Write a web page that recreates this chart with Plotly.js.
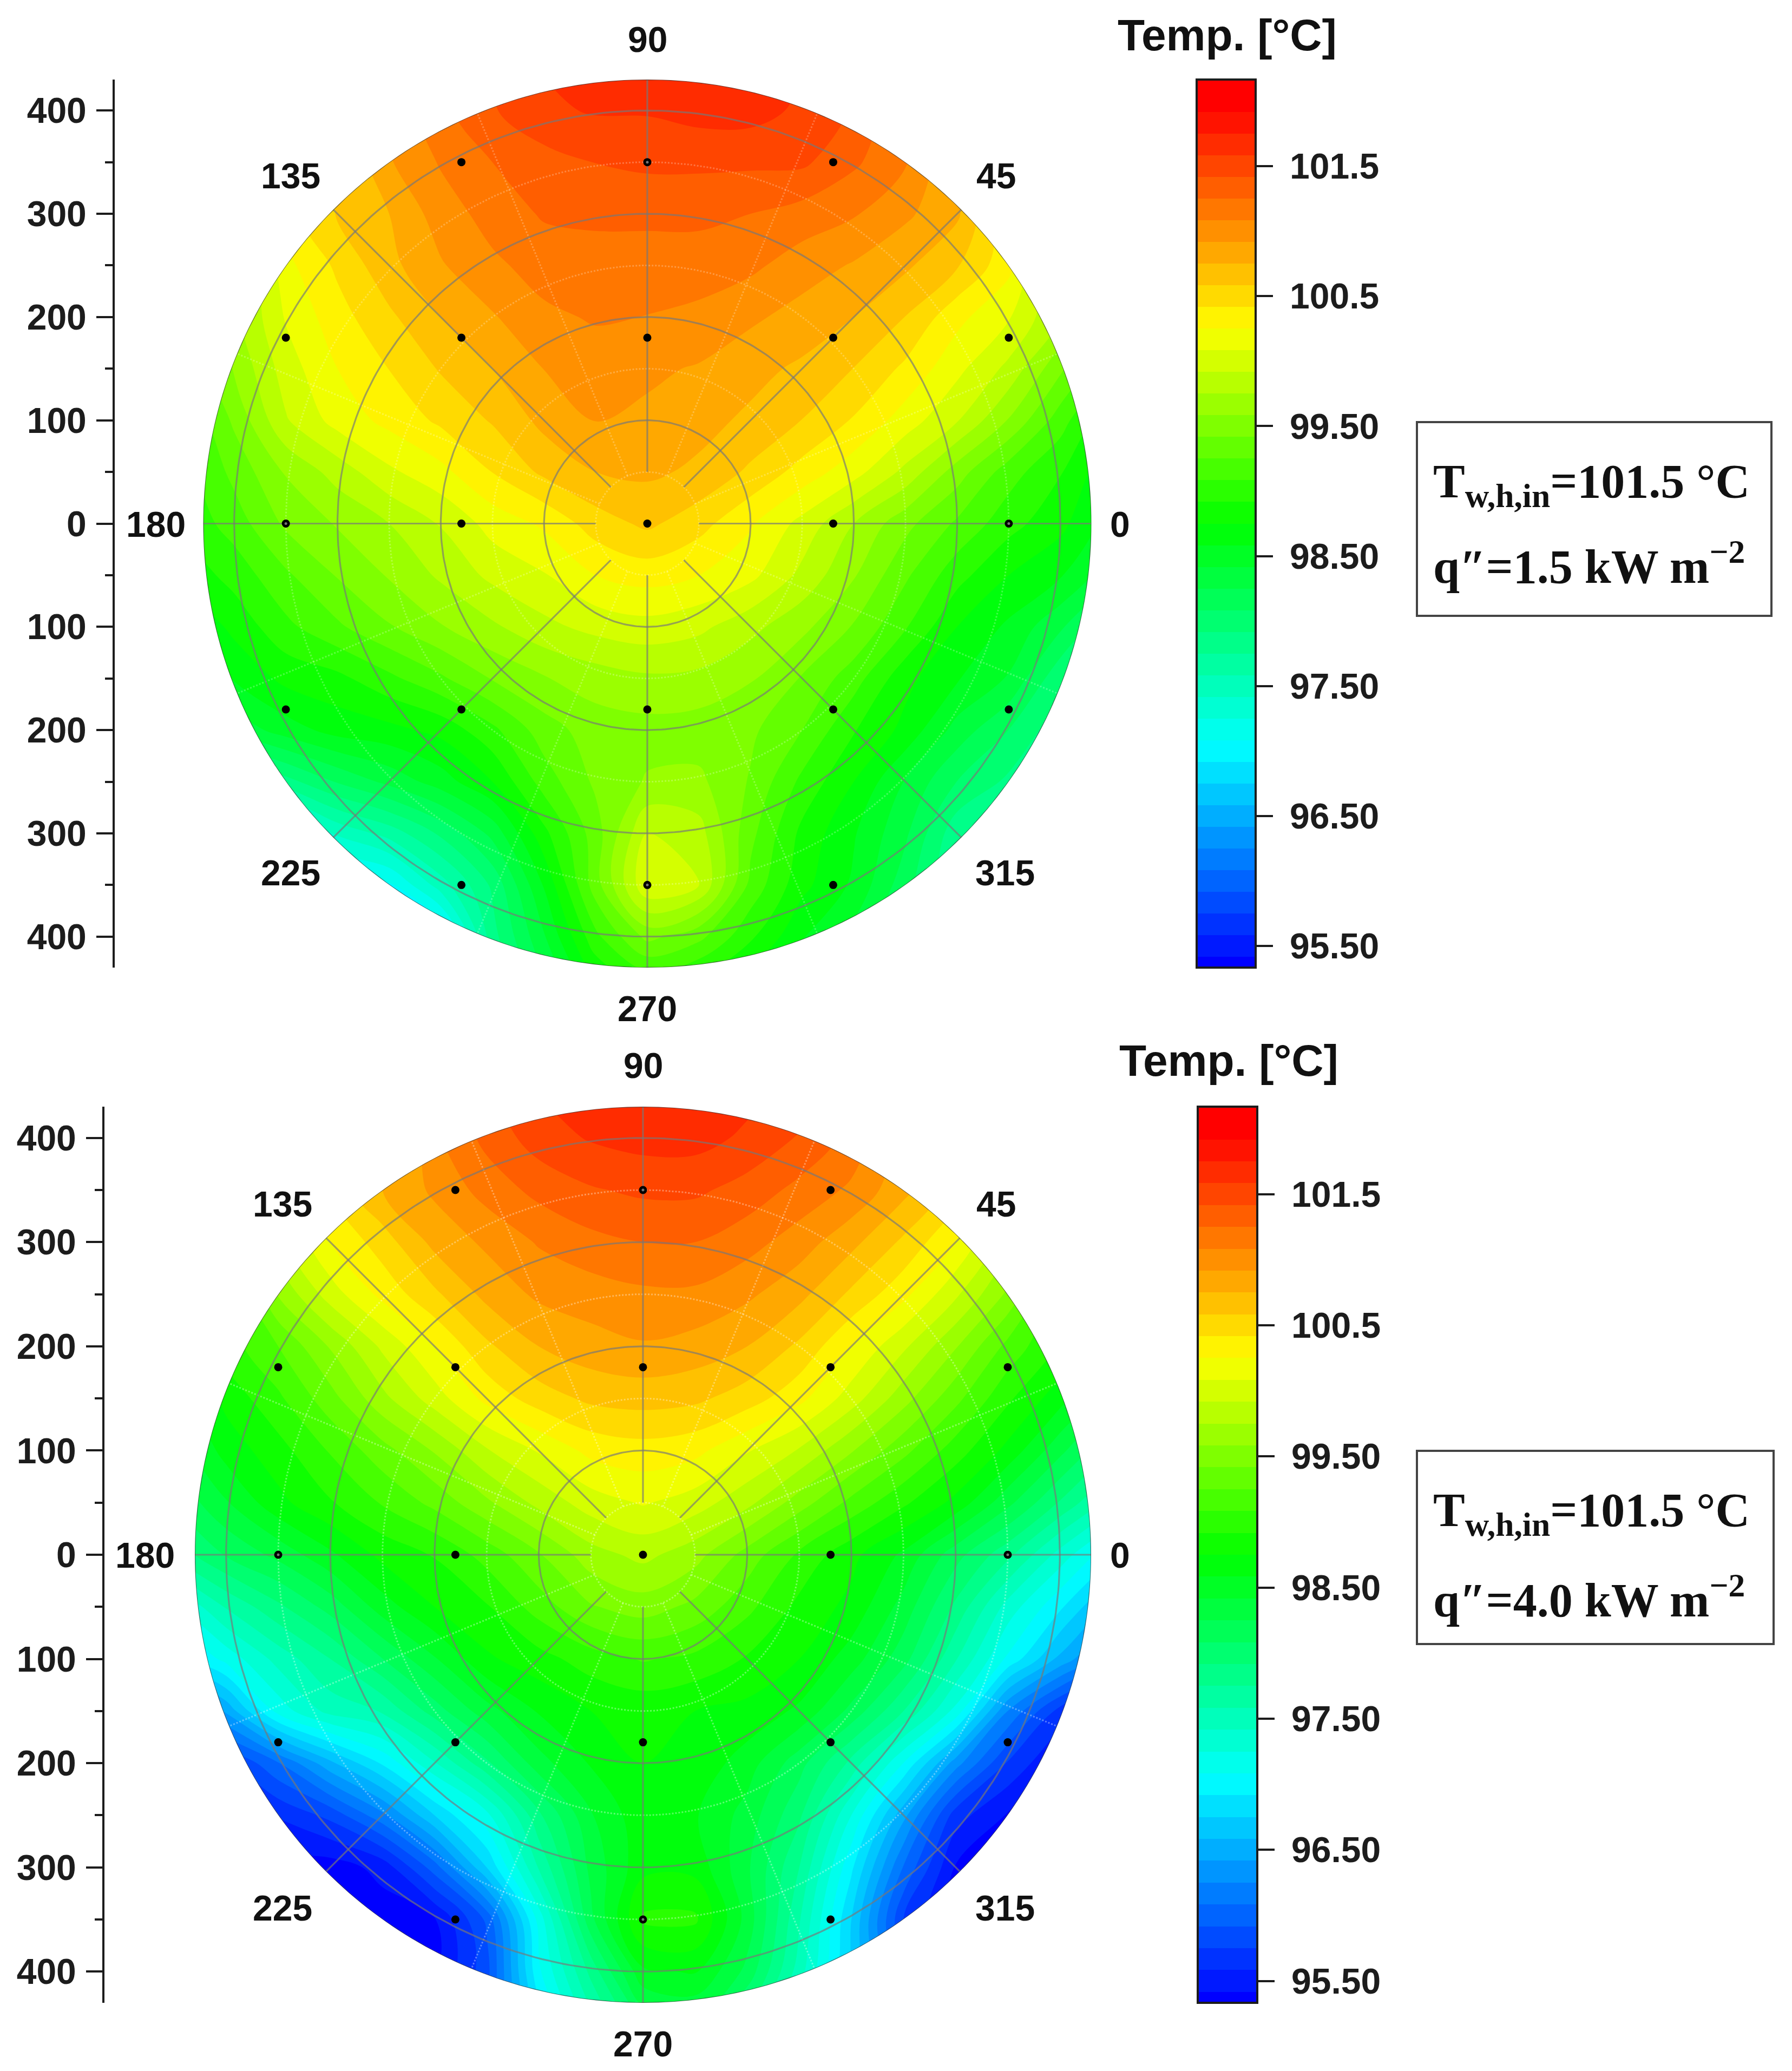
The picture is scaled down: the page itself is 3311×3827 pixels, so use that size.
<!DOCTYPE html>
<html><head><meta charset="utf-8">
<script src="https://cdn.plot.ly/plotly-3.0.1.min.js"></script>
<style>html,body{margin:0;padding:0;background:#fff}</style></head>
<body><div id="chart" style="width:3311px;height:3827px"></div>
<script>
// Temperature readings [°C], on a 50-unit position grid
const gridX = [-450,-400,-350,-300,-250,-200,-150,-100,-50,0,50,100,150,200,250,300,350,400,450];
const gridY = [450,400,350,300,250,200,150,100,50,0,-50,-100,-150,-200,-250,-300,-350,-400,-450];

const tempLow = [
[99.7,100.0,100.3,100.6,100.9,101.15,101.4,101.6,101.65,101.65,101.65,101.65,101.6,101.4,101.1,100.8,100.5,100.2,99.9],
[99.7,100.0,100.3,100.65,100.95,101.2,101.4,101.55,101.6,101.6,101.65,101.65,101.55,101.4,101.1,100.75,100.4,100.1,99.8],
[99.6,99.85,100.2,100.55,100.9,101.1,101.25,101.35,101.42,101.45,101.45,101.45,101.45,101.28,101.1,100.75,100.3,99.95,99.6],
[99.4,99.7,100.35,100.6,100.75,101.0,101.15,101.27,101.3,101.3,101.3,101.25,101.18,101.1,100.95,100.78,100.3,99.85,99.4],
[99.2,99.6,100.2,100.45,100.7,100.9,101.05,101.15,101.15,101.15,101.15,101.12,101.0,100.9,100.78,100.6,100.3,99.7,99.2],
[99.1,99.7,100.1,100.35,100.55,100.75,100.9,101.05,101.1,101.08,101.05,100.95,100.85,100.75,100.58,100.3,100.1,99.75,99.3],
[99.2,99.6,100.0,100.25,100.42,100.6,100.75,100.92,101.0,100.95,100.9,100.8,100.72,100.58,100.38,100.13,99.87,99.45,99.05],
[99.05,99.45,99.9,100.15,100.3,100.45,100.6,100.8,100.92,100.88,100.8,100.72,100.58,100.4,100.17,99.93,99.57,99.16,98.75],
[99.0,99.3,99.6,99.82,100.05,100.2,100.42,100.62,100.75,100.78,100.72,100.55,100.35,100.15,99.87,99.5,99.16,98.93,98.6],
[98.95,99.16,99.45,99.6,99.75,99.93,100.15,100.28,100.5,100.62,100.48,100.27,100.03,99.75,99.47,99.22,98.98,98.8,98.5],
[98.8,98.98,99.22,99.43,99.6,99.78,99.96,100.07,100.25,100.32,100.25,100.13,99.87,99.6,99.28,98.98,98.75,98.6,98.3],
[98.55,98.8,99.04,99.22,99.4,99.57,99.72,99.87,99.97,100.02,99.96,99.8,99.63,99.4,99.1,98.75,98.55,98.28,97.9],
[98.35,98.6,98.8,98.87,99.04,99.22,99.43,99.57,99.66,99.72,99.7,99.6,99.4,99.16,98.8,98.6,98.4,97.95,97.55],
[98.0,98.3,98.5,98.65,98.7,98.8,99.04,99.34,99.5,99.52,99.5,99.45,99.25,98.93,98.7,98.35,98.08,97.8,97.4],
[97.4,97.6,97.85,98.1,98.3,98.5,98.75,99.16,99.45,99.6,99.62,99.4,99.04,98.75,98.4,98.08,97.88,97.55,97.2],
[96.8,96.9,97.0,97.45,97.65,97.95,98.3,98.87,99.34,99.92,99.82,99.3,98.87,98.6,98.28,97.8,97.5,97.2,97.0],
[96.6,96.7,96.8,96.9,97.05,97.5,97.95,98.6,99.34,100.07,99.92,99.2,98.8,98.55,98.15,97.7,97.3,97.1,96.9],
[96.5,96.6,96.7,96.75,96.7,96.9,97.85,98.4,99.04,99.47,99.3,98.95,98.6,98.35,97.95,97.5,97.2,97.0,96.8],
[96.4,96.5,96.6,96.7,96.6,96.8,97.7,98.2,98.7,98.9,98.8,98.6,98.3,98.0,97.6,97.2,97.0,96.9,96.7]
];

const tempHigh = [
[99.0,99.4,99.85,100.3,100.75,101.1,101.4,101.6,101.65,101.7,101.7,101.65,101.55,101.25,100.9,100.45,100.0,99.55,99.1],
[98.95,99.3,99.75,100.2,100.6,101.05,101.3,101.5,101.6,101.65,101.65,101.55,101.4,101.2,100.85,100.4,99.9,99.45,99.0],
[98.8,99.2,99.75,100.45,100.75,100.95,101.15,101.3,101.4,101.45,101.45,101.35,101.2,101.05,100.8,100.5,99.8,99.3,98.8],
[98.7,99.2,99.85,100.25,100.5,100.8,100.95,101.1,101.2,101.25,101.25,101.15,101.0,100.8,100.55,100.25,99.8,99.2,98.7],
[98.5,99.0,99.6,100.0,100.3,100.55,100.8,100.95,101.0,101.05,101.05,100.95,100.8,100.55,100.3,99.95,99.55,99.0,98.5],
[98.5,99.0,99.25,99.6,99.95,100.25,100.55,100.75,100.85,100.9,100.85,100.75,100.55,100.25,99.95,99.6,99.2,98.9,98.4],
[98.45,98.8,99.05,99.35,99.7,100.0,100.3,100.5,100.62,100.65,100.62,100.5,100.3,100.0,99.65,99.3,98.95,98.65,98.25],
[98.3,98.65,98.85,99.1,99.35,99.6,99.9,100.1,100.3,100.35,100.3,100.1,99.9,99.6,99.3,99.0,98.7,98.3,97.9],
[98.1,98.4,98.7,98.9,99.1,99.3,99.55,99.8,100.0,100.1,100.0,99.8,99.5,99.2,98.95,98.7,98.3,97.9,97.5],
[97.8,98.1,98.3,98.55,98.8,98.93,99.15,99.4,99.68,99.8,99.65,99.35,99.05,98.8,98.55,98.15,97.8,97.35,96.95],
[97.2,97.6,97.88,98.15,98.5,98.75,98.9,99.16,99.4,99.5,99.37,99.13,98.87,98.7,98.35,97.88,97.35,96.95,96.5],
[96.8,97.14,97.48,97.75,98.08,98.4,98.72,98.85,99.0,99.1,99.04,98.9,98.75,98.5,98.15,97.6,97.05,96.54,96.1],
[95.9,96.45,97.15,97.48,97.6,98.0,98.35,98.6,98.75,98.8,98.75,98.7,98.55,98.2,97.75,97.2,96.25,95.68,95.4],
[95.4,95.7,96.07,96.54,96.94,97.4,97.88,98.35,98.6,98.75,98.7,98.5,98.15,97.7,97.08,96.33,95.73,95.4,95.33],
[95.33,95.4,95.6,95.8,96.2,96.75,97.2,97.88,98.4,98.7,98.6,98.35,97.95,97.25,96.47,95.66,95.4,95.33,95.33],
[95.33,95.33,95.33,95.33,95.47,96.0,96.75,97.6,98.3,98.7,98.7,98.28,97.75,96.95,96.07,95.4,95.33,95.33,95.33],
[95.33,95.33,95.33,95.33,95.33,95.4,95.95,97.15,98.2,98.95,98.95,98.35,97.6,96.75,95.75,95.35,95.33,95.33,95.33],
[95.33,95.33,95.33,95.33,95.33,95.4,95.85,97.05,97.8,98.55,98.6,98.2,97.5,96.7,95.9,95.4,95.33,95.33,95.33],
[95.4,95.4,95.4,95.4,95.5,95.7,96.0,96.8,97.5,98.1,98.2,97.8,97.1,96.3,95.9,95.5,95.4,95.4,95.4]
];

const pointX = [-180,0,180,-350,-180,0,180,350,-350,-180,0,180,350,-350,-180,0,180,350,-180,0,180];
const pointY = [350,350,350,180,180,180,180,180,0,0,0,0,0,-180,-180,-180,-180,-180,-350,-350,-350];

const yTickVals = [-400,-300,-200,-100,0,100,200,300,400];
const yTickText = ['400','300','200','100','0','100','200','300','400'];
const yMinorVals = [-350,-250,-150,-50,50,150,250,350];
const cbTickVals = [95.5,96.5,97.5,98.5,99.5,100.5,101.5];
const cbTickText = ['\u00a095.50','\u00a096.50','\u00a097.50','\u00a098.50','\u00a099.50','\u00a0100.5','\u00a0101.5'];
const majorRadii = [100,200,300,400];
const minorRadii = [50,150,250,350];
const majorAngles = [0,45,90,135,180,225,270,315];
const minorAngles = [22.5,67.5,112.5,157.5,202.5,247.5,292.5,337.5];
const angleLabels = ['90','135','45','180','0','225','315','270'];

const W = 3311, H = 3827, RMAX = 430;
const px = v => v / W, py = v => 1 - v / H;
const SANS = '"Liberation Sans", Arial, sans-serif', SERIF = '"Liberation Serif", "Times New Roman", serif';
const INK = '#1c1c1c';
const colorscale = [[0,'#0000ff'],[0.25,'#00ffff'],[0.5,'#00ff00'],[0.72,'#ffff00'],[0.97,'#ff0000'],[1,'#ff0000']];

function ringLine(rs){const X=[],Y=[];rs.forEach(r=>{for(let a=0;a<=360;a+=1){X.push(r*Math.cos(a*Math.PI/180));Y.push(r*Math.sin(a*Math.PI/180));}X.push(null);Y.push(null);});return {X,Y};}
function spokeLine(as,r0,r1){const X=[],Y=[];as.forEach(a=>{const c=Math.cos(a*Math.PI/180),s=Math.sin(a*Math.PI/180);X.push(r0*c,r1*c,null);Y.push(r0*s,r1*s,null);});return {X,Y};}

const panels = [
 {z:tempLow, xa:'x', ya:'y', xn:'xaxis', yn:'yaxis', cx:1196, cy:967.5, R:820.5, axisX:212, cbL:2211, cbW:109, minorAlpha:0.25,
  labels:[[1196,73],[537,325],[1840,325],[288,969],[2069,969],[537,1613],[1857,1613],[1196,1864]],
  titlePos:[2267,64], box:[2618,780,3273,1138], line1:[2646,896], line2:[2646,1041], q:'1.5'},
 {z:tempHigh, xa:'x2', ya:'y2', xn:'xaxis2', yn:'yaxis2', cx:1188, cy:2873, R:828, axisX:193, cbL:2213, cbW:110, minorAlpha:0.35,
  labels:[[1188,1969],[522,2225],[1840,2225],[268,2874],[2069,2874],[522,3526],[1857,3526],[1188,3777]],
  titlePos:[2270,1959], box:[2618,2681,3277,3038], line1:[2646,2796], line2:[2646,2950], q:'4.0'}
];

const traces = [], layout = {width:W, height:H, margin:{l:0,r:0,t:0,b:0,pad:0}, paper_bgcolor:'#fff', plot_bgcolor:'#fff', showlegend:false, shapes:[], annotations:[]};
const ascY = gridY.slice().reverse();
const hollow = pointX.map((x,i)=> (x===0 && Math.abs(pointY[i])===350) || (pointY[i]===0 && Math.abs(x)===350));

panels.forEach(p => {
  const base = {xaxis:p.xa, yaxis:p.ya, hoverinfo:'skip', showlegend:false};
  traces.push(Object.assign({}, base, {
    type:'contour', x:gridX, y:ascY, z:p.z.slice().reverse(),
    autocontour:false, contours:{coloring:'fill', showlines:false, start:95.4167, end:102.09, size:1/6},
    line:{width:0, smoothing:1}, colorscale,
    colorbar:{x:px(p.cbL), xanchor:'left', xref:'paper', xpad:0, ypad:0,
      y:py(p.cy), yanchor:'middle', yref:'paper', len:2*p.R/H, lenmode:'fraction',
      thickness:p.cbW, thicknessmode:'pixels', outlinewidth:4, outlinecolor:INK, borderwidth:0,
      ticks:'outside', ticklen:30, tickwidth:4, tickcolor:INK, tickmode:'array', tickvals:cbTickVals, ticktext:cbTickText,
      tickfont:{family:SANS, size:66, color:INK, weight:700}}
  }));
  const rm = ringLine(minorRadii), sm = spokeLine(minorAngles,50,RMAX);
  traces.push(Object.assign({}, base, {type:'scatter', mode:'lines', x:rm.X.concat(sm.X), y:rm.Y.concat(sm.Y),
    line:{color:`rgba(255,255,255,${p.minorAlpha})`, width:3, dash:'dot'}}));
  const rM = ringLine(majorRadii), sM = spokeLine(majorAngles,50,RMAX);
  traces.push(Object.assign({}, base, {type:'scatter', mode:'lines', x:rM.X.concat(sM.X), y:rM.Y.concat(sM.Y),
    line:{color:'rgba(120,120,120,0.68)', width:3.2}}));
  const edge = ringLine([RMAX]);
  traces.push(Object.assign({}, base, {type:'scatter', mode:'lines', x:edge.X, y:edge.Y, line:{color:'rgba(60,60,60,0.7)', width:2}}));
  traces.push(Object.assign({}, base, {type:'scatter', mode:'markers', x:pointX, y:pointY, marker:{color:'#000', size:15}}));
  traces.push(Object.assign({}, base, {type:'scatter', mode:'markers', x:pointX.filter((_,i)=>hollow[i]), y:pointY.filter((_,i)=>hollow[i]), marker:{color:'rgba(130,130,130,0.9)', size:5}}));

  const scale = p.R / RMAX;
  layout[p.xn] = {domain:[px(p.axisX), px(p.cx + p.R)], range:[-(p.cx - p.axisX)/scale, RMAX], visible:false, fixedrange:true, anchor:p.ya};
  layout[p.yn] = {domain:[py(p.cy + p.R), py(p.cy - p.R)], range:[-RMAX, RMAX], anchor:p.xa, side:'left', showgrid:false, zeroline:false, fixedrange:true,
    showline:true, linecolor:INK, linewidth:4, ticks:'outside', ticklen:30, tickwidth:4, tickcolor:INK, tickmode:'array', tickvals:yTickVals, ticktext:yTickText,
    ticklabelstandoff:5, tickfont:{family:SANS, size:66, color:INK, weight:700},
    minor:{tickmode:'array', tickvals:yMinorVals, ticks:'outside', ticklen:14, tickwidth:3.5, tickcolor:INK, showgrid:false}};

  // white mask (in page coordinates, so it is not clipped at the plot edge) leaving only the disc open
  const mL = px(p.cx - 458*scale), mR = px(p.cx + p.R + 12), mT = py(p.cy - p.R - 12), mB = py(p.cy + p.R + 12);
  let path = `M${mL},${mB}L${mR},${mB}L${mR},${mT}L${mL},${mT}Z`;
  for (let a=0;a<360;a+=1){ const t=a*Math.PI/180; path += (a?'L':'M')+px(p.cx + p.R*Math.cos(t)).toFixed(6)+','+py(p.cy - p.R*Math.sin(t)).toFixed(6); }
  path += 'Z';
  layout.shapes.push({type:'path', xref:'paper', yref:'paper', path, fillcolor:'#fff', fillrule:'evenodd', line:{width:0}, layer:'above'});
  layout.shapes.push({type:'rect', xref:'paper', yref:'paper', x0:px(p.box[0]), x1:px(p.box[2]), y0:py(p.box[3]), y1:py(p.box[1]), line:{color:'#444', width:4}, fillcolor:'rgba(0,0,0,0)'});

  const txt = (x,y,text,size,family,anchor) => ({xref:'paper', yref:'paper', x:px(x), y:py(y), text, showarrow:false, xanchor:anchor||'center', yanchor:'middle', font:{family, size, color:'#111', weight:700}});
  p.labels.forEach((l,i) => layout.annotations.push(txt(l[0], l[1], angleLabels[i], 66, SANS)));
  layout.annotations.push(txt(p.titlePos[0], p.titlePos[1], 'Temp. [°C]', 82, SANS));
  layout.annotations.push(txt(p.line1[0], p.line1[1], 'T<sub>w,h,in</sub>=101.5 °C', 88, SERIF, 'left'));
  layout.annotations.push(txt(p.line2[0], p.line2[1], 'q<i>″</i>=' + p.q + ' kW m<sup>−2</sup>', 88, SERIF, 'left'));
});

Plotly.newPlot('chart', traces, layout, {displayModeBar:false, responsive:false});
</script></body></html>
